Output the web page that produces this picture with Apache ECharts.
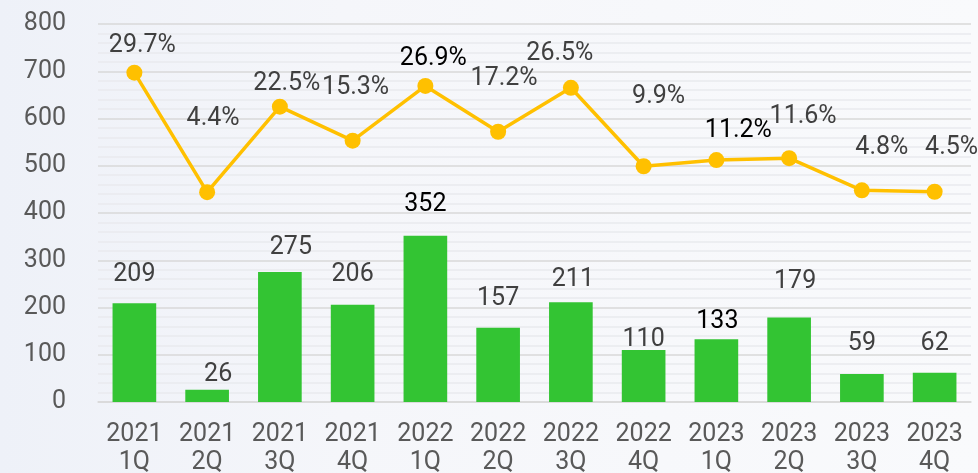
<!DOCTYPE html>
<html>
<head>
<meta charset="utf-8">
<script src="https://cdn.jsdelivr.net/npm/echarts@6/dist/echarts.min.js"></script>
<style>
  html, body { margin: 0; padding: 0; }
  #chart { width: 978px; height: 473px; }
</style>
</head>
<body>
<div id="chart"></div>
<script>
// 四半期
let quarters = ['2021\n1Q', '2021\n2Q', '2021\n3Q', '2021\n4Q', '2022\n1Q', '2022\n2Q',
                '2022\n3Q', '2022\n4Q', '2023\n1Q', '2023\n2Q', '2023\n3Q', '2023\n4Q'];
// 棒（件数）
let counts = [209, 26, 275, 206, 352, 157, 211, 110, 133, 179, 59, 62];
// 折れ線（%）
let rates = [29.7, 4.4, 22.5, 15.3, 26.9, 17.2, 26.5, 9.9, 11.2, 11.6, 4.8, 4.5];
let yTicks = [0, 100, 200, 300, 400, 500, 600, 700, 800];

// ラベルの微調整 [dx, dy]
let barLabelNudge = [[0, 0], [11, 14], [11, 4], [0, -1], [0, -2], [0, -1],
                     [2, 6], [0, 18], [1, 11], [6, -7], [0, -2], [0, 0]];
let rateLabelNudge = [[8, 0], [6, -47], [7, 4], [3, -26], [8, -1], [6, -26],
                      [-11, -8], [15, -43], [22, -3], [14, -15], [20, -16], [17, -17]];
// 黒字のラベル
let darkBars = [4, 8];
let darkRates = [4, 8];

let font = 'Roboto, "Noto Sans CJK JP", sans-serif';

let option = {
    backgroundColor: new echarts.graphic.LinearGradient(0, 0, 1, 0, [
        {offset: 0, color: '#eef1f8'},
        {offset: 0.35, color: '#f5f6fa'},
        {offset: 1, color: '#f9fafc'}
    ]),
    animation: false,
    textStyle: { fontFamily: font },
    grid: {
        left: 98,
        right: 7,
        top: 24,
        bottom: 71,
        outerBoundsMode: 'none',
        containLabel: false
    },
    xAxis: {
        type: 'category',
        data: quarters,
        axisLine: { show: true, lineStyle: { color: '#d9d9d9', width: 1.5 } },
        axisTick: { show: false },
        axisLabel: {
            interval: 0,
            hideOverlap: false,
            color: '#595959',
            fontSize: 25,
            lineHeight: 28,
            margin: 19,
            fontFamily: font
        }
    },
    yAxis: [
        {
            type: 'value',
            min: yTicks[0],
            max: yTicks[yTicks.length - 1],
            interval: 100,
            axisLine: { show: false },
            axisTick: { show: false },
            axisLabel: {
                color: '#595959',
                fontSize: 25,
                margin: 32,
                padding: [4, 0, 0, 0],
                fontFamily: font
            },
            splitLine: { lineStyle: { color: '#d9d9d9', width: 1.5 } },
            minorTick: { show: false, splitNumber: 5 },
            minorSplitLine: { show: true, lineStyle: { color: '#e9eaee', width: 1.5 } }
        },
        {
            type: 'value',
            min: -40,
            max: 40,
            interval: 10,
            show: false,
            splitLine: { show: false }
        }
    ],
    series: [
        {
            name: '件数',
            type: 'bar',
            barWidth: '60%',
            itemStyle: { color: '#33c433' },
            data: counts.map((v, i) => ({
                value: v,
                label: {
                    offset: barLabelNudge[i],
                    color: darkBars.includes(i) ? '#000000' : '#404040'
                }
            })),
            label: {
                show: true,
                position: 'top',
                distance: 16,
                fontSize: 25,
                fontFamily: font
            }
        },
        {
            name: '率',
            type: 'line',
            yAxisIndex: 1,
            symbol: 'circle',
            symbolSize: 16,
            lineStyle: { color: '#ffc000', width: 3.5 },
            itemStyle: { color: '#ffc000' },
            data: rates.map((v, i) => ({
                value: v,
                label: {
                    offset: rateLabelNudge[i],
                    color: darkRates.includes(i) ? '#000000' : '#404040'
                }
            })),
            label: {
                show: true,
                position: 'top',
                distance: 6,
                fontSize: 25,
                fontFamily: font,
                formatter: p => p.value.toFixed(1) + '%'
            },
            z: 3
        }
    ]
};

let chart = echarts.init(document.getElementById('chart'));
chart.setOption(option);
</script>
</body>
</html>
